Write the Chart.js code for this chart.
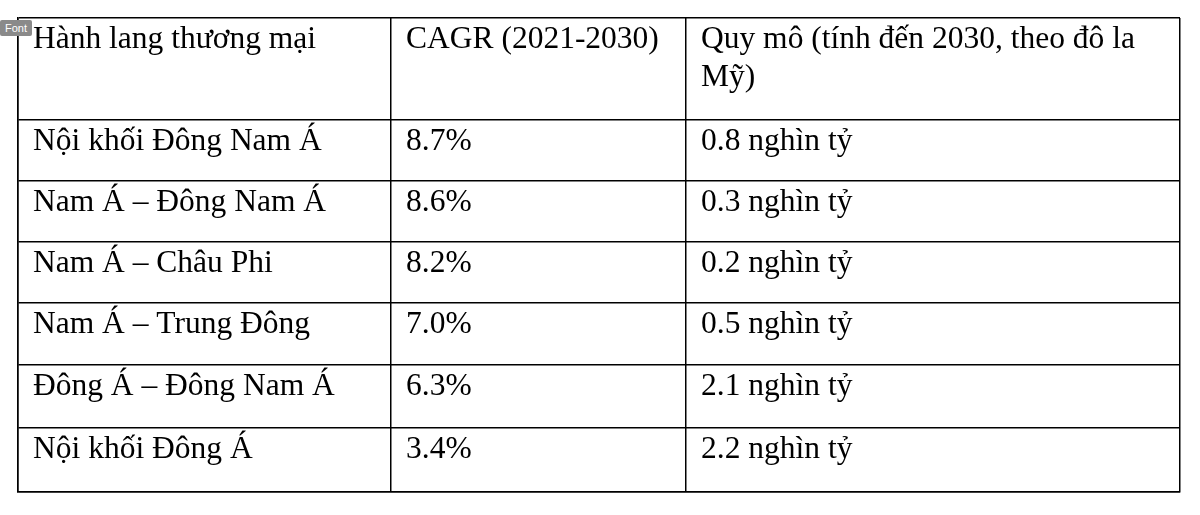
<!DOCTYPE html>
<html><head><meta charset="utf-8">
<script src="https://cdn.jsdelivr.net/npm/chart.js@4"></script>
<style>html,body{margin:0;background:#fff}#wrap{position:relative;width:1200px;height:515px}
#tag{position:absolute;left:0;top:20px;background:#8a8a8a;color:#fff;font:11px "Liberation Sans";padding:2px 5px;border-radius:2px}</style>
</head><body><div id="wrap"><canvas id="c" width="1200" height="515"></canvas><div id="tag">Font</div></div>
<script>
const headers = [["Hành lang thương mại"], ["CAGR (2021-2030)"], ["Quy mô (tính đến 2030, theo đô la", "Mỹ)"]];
const corridors = ["Nội khối Đông Nam Á", "Nam Á – Đông Nam Á", "Nam Á – Châu Phi", "Nam Á – Trung Đông", "Đông Á – Đông Nam Á", "Nội khối Đông Á"];
const cagr = ["8.7%", "8.6%", "8.2%", "7.0%", "6.3%", "3.4%"];
const scale = ["0.8 nghìn tỷ", "0.3 nghìn tỷ", "0.2 nghìn tỷ", "0.5 nghìn tỷ", "2.1 nghìn tỷ", "2.2 nghìn tỷ"];
const colEdges = [0, 373, 668, 1162];
const rowEdges = [0, 102, 163, 224, 285, 347, 410, 474];

const textPlugin = {
  id: 'tableText',
  afterDraw(chart) {
    const ctx = chart.ctx, xs = chart.scales.x, ys = chart.scales.y;
    ctx.save();
    ctx.fillStyle = '#000';
    ctx.font = '31.5px "Liberation Serif"';
    ctx.textBaseline = 'top';
    const rows = [headers].concat(corridors.map((c, i) => [[c], [cagr[i]], [scale[i]]]));
    rows.forEach((row, r) => {
      const top = ys.getPixelForValue(rowEdges[r]);
      row.forEach((lines, c) => {
        const left = xs.getPixelForValue(colEdges[c]);
        lines.forEach((ln, k) => ctx.fillText(ln, left + 15, top + 6 + k * 38));
      });
    });
    ctx.restore();
  }
};

new Chart(document.getElementById('c'), {
  type: 'scatter',
  data: { datasets: [] },
  plugins: [textPlugin],
  options: {
    responsive: false, animation: false,
    layout: { padding: { left: 18, top: 18, right: 20, bottom: 23 } },
    plugins: { legend: { display: false }, tooltip: { enabled: false } },
    scales: {
      x: { type: 'linear', min: 0, max: 1162,
        afterBuildTicks: s => { s.ticks = colEdges.map(v => ({ value: v })); },
        ticks: { display: false },
        grid: { color: '#000', lineWidth: 1.5, drawTicks: false },
        border: { display: true, color: '#000', width: 1.5 } },
      y: { type: 'linear', min: 0, max: 474, reverse: true,
        afterBuildTicks: s => { s.ticks = rowEdges.map(v => ({ value: v })); },
        ticks: { display: false },
        grid: { color: '#000', lineWidth: 1.5, drawTicks: false },
        border: { display: true, color: '#000', width: 1.5 } }
    }
  }
});
</script></body></html>
